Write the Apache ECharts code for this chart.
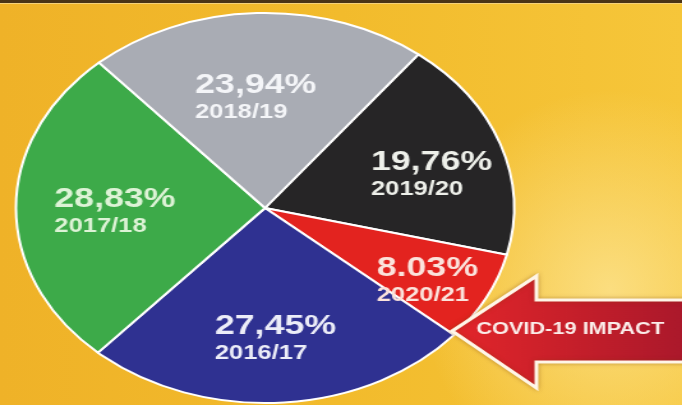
<!DOCTYPE html>
<html>
<head>
<meta charset="utf-8">
<script src="https://cdn.jsdelivr.net/npm/echarts@6/dist/echarts.min.js"></script>
<style>
  html, body {
    margin: 0;
    padding: 0;
    width: 682px;
    height: 405px;
    overflow: hidden;
  }
  body {
    position: relative;
    background:
      radial-gradient(ellipse 190px 200px at 610px 290px, rgba(252, 226, 140, 0.85) 0%, rgba(250, 214, 100, 0) 100%),
      linear-gradient(90deg, #EFB228 0%, #F2BB2C 50%, #F6C63A 100%);
  }
  .topbar {
    position: absolute;
    left: 0;
    top: 0;
    width: 682px;
    height: 3px;
    background: #4A3416;
    border-bottom: 1px solid #F6D27A;
  }
  /* the source picture is stretched sideways, so the chart is drawn narrow and scaled */
  #chart {
    position: absolute;
    left: 0;
    top: 0;
    width: 534px;
    height: 405px;
    transform: scaleX(1.2772);
    transform-origin: 0 0;
  }
</style>
</head>
<body>
<div class="topbar"></div>
<div id="chart"></div>
<script>
  // data
  const years = ['2019/20', '2020/21', '2016/17', '2017/18', '2018/19']
  const shares = [19.76, 8.03, 27.45, 28.83, 23.94]
  const shareLabels = ['19,76%', '8.03%', '27,45%', '28,83%', '23,94%']

  const sliceColors = ['#262526', '#E3231F', '#2F3191', '#3DAA49', '#A9ACB4']
  const textColors = ['#EEF0EA', '#FBE3DC', '#ECEDF8', '#DDF3D6', '#F4F5F8']
  // small label nudges (unscaled px) so they sit like the original
  const labelNudge = [[8, 8], [12, 12], [0, 0], [12, 3], [-3, 18]]

  let chart = echarts.init(document.getElementById('chart'))

  const center = [207.5, 208]
  const startAngle = 52

  chart.setOption({
    animation: false,
    series: [
      {
        type: 'pie',
        center: center,
        radius: [0, 195],
        startAngle: startAngle,
        silent: true,
        label: { show: false },
        labelLine: { show: false },
        itemStyle: {
          borderColor: '#FFFFFF',
          borderWidth: 2
        },
        data: shares.map((v, i) => ({
          value: v,
          name: years[i],
          itemStyle: { color: sliceColors[i] }
        }))
      },
      {
        // transparent ring that only carries the labels a bit further out
        type: 'pie',
        center: center,
        radius: [58, 195],
        startAngle: startAngle,
        silent: true,
        itemStyle: { color: 'rgba(0,0,0,0)' },
        label: {
          show: true,
          position: 'inside',
          rotate: 0,
          formatter: function (p) {
            return '{a|' + shareLabels[p.dataIndex] + '}\n{b|' + years[p.dataIndex] + '}'
          },
          rich: {
            a: {
              fontFamily: 'Liberation Sans',
              fontWeight: 'bold',
              fontSize: 28,
              lineHeight: 32,
              align: 'left'
            },
            b: {
              fontFamily: 'Liberation Sans',
              fontWeight: 'bold',
              fontSize: 20,
              lineHeight: 22,
              align: 'left'
            }
          }
        },
        labelLayout: function (params) {
          const n = labelNudge[params.dataIndex]
          return { dx: n[0], dy: n[1] }
        },
        labelLine: { show: false },
        data: shares.map((v, i) => ({
          value: v,
          name: years[i],
          label: { color: textColors[i] }
        }))
      }
    ],
    graphic: [
      {
        type: 'polygon',
        silent: true,
        z: 100,
        shape: {
          points: [[354, 331], [420, 276], [420, 300], [540, 300], [540, 362], [420, 362], [420, 388]]
        },
        style: {
          fill: new echarts.graphic.LinearGradient(0, 0, 1, 0, [
            { offset: 0, color: '#E3262A' },
            { offset: 1, color: '#A9182B' }
          ]),
          stroke: '#FFF6E8',
          lineWidth: 3,
          shadowBlur: 4,
          shadowColor: 'rgba(120, 60, 0, 0.35)'
        }
      },
      {
        type: 'text',
        silent: true,
        z: 101,
        left: 373,
        top: 321,
        style: {
          text: 'COVID-19 IMPACT',
          fill: '#FBEDEA',
          font: 'bold 17px "Liberation Sans"'
        }
      }
    ]
  })
</script>
</body>
</html>
